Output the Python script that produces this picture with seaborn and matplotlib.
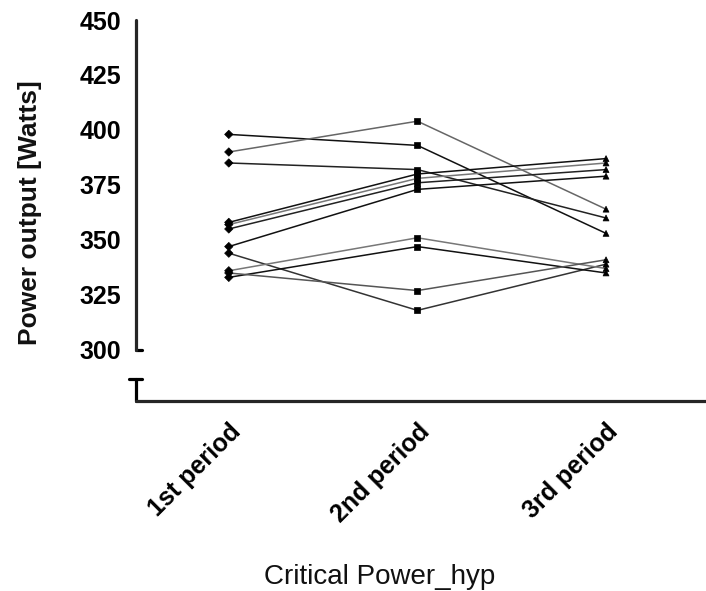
import numpy as np
import pandas as pd
import matplotlib
matplotlib.use("Agg")
import matplotlib.pyplot as plt
import matplotlib.transforms as mtransforms
import seaborn as sns

# Power output of each subject in the three periods
periods = ["1st period", "2nd period", "3rd period"]
subjects = ["S1", "S2", "S3", "S4", "S5", "S6", "S7", "S8", "S9", "S10", "S11"]
period1 = [398, 390, 385, 358, 357, 355, 347, 344, 336, 333, 335]
period2 = [393, 404, 382, 380, 378, 376, 373, 318, 351, 347, 327]
period3 = [353, 364, 360, 387, 385, 382, 379, 339, 337, 335, 341]
line_shades = ["#111111", "#666666", "#222222", "#111111", "#777777", "#222222",
               "#111111", "#333333", "#777777", "#111111", "#555555"]
y_ticks = [300, 325, 350, 375, 400, 425, 450]

rows = []
for i, s in enumerate(subjects):
    for j, vals in enumerate([period1, period2, period3]):
        rows.append({"subject": s, "pos": j, "period": periods[j], "power": vals[i]})
df = pd.DataFrame(rows)

sns.set_style("white")
plt.rcParams["font.family"] = ["Liberation Sans", "DejaVu Sans"]

W, H = 706, 591
fig = plt.figure(figsize=(W / 100, H / 100), dpi=100)
ax = fig.add_axes([136 / W, 1 - 401 / H, 1 - 136 / W, (401 - 20) / H])

sns.lineplot(data=df, x="pos", y="power", hue="subject",
             estimator=None, palette=dict(zip(subjects, line_shades)),
             linewidth=1.1, legend=False, ax=ax, sort=False)
sns.scatterplot(data=df, x="pos", y="power", style="period",
                markers={"1st period": "D", "2nd period": "s", "3rd period": "^"},
                color="black", s=18, edgecolor="black", linewidth=0.5,
                legend=False, ax=ax, zorder=3)

ybot = 276.8
ax.set_ylim(ybot, 450)
ax.set_xlim(-0.492, 2.53)
ax.set_yticks(y_ticks)
ax.set_xticks(range(len(periods)))
ax.set_xticklabels(periods, rotation=45, ha="right", rotation_mode="anchor",
                   fontsize=18, fontweight="bold", color="#111111")
for lab in ax.get_yticklabels():
    lab.set_fontsize(18)
    lab.set_fontweight("bold")
    lab.set_color("#111111")
ax.set_xlabel("")
ax.set_ylabel("")

sns.despine(ax=ax)
lw = 2.3
ax.spines["left"].set_bounds(300, 450)
ax.spines["left"].set_linewidth(lw)
ax.spines["bottom"].set_linewidth(lw)
ax.spines["left"].set_capstyle("round")
ax.spines["bottom"].set_capstyle("round")
ax.tick_params(axis="y", direction="out", length=9.5, width=lw, pad=1, colors="black")
ax.tick_params(axis="x", direction="out", length=7.5, width=lw, pad=6, colors="black")

# broken-axis stub below the gap
xf = mtransforms.blended_transform_factory(ax.transAxes, ax.transData)
ax.plot([0, 0], [286.8, ybot], transform=xf, color="black", lw=lw,
        clip_on=False, solid_capstyle="round")
ax.plot([-0.013, 0.01], [286.8, 286.8], transform=xf, color="black", lw=lw,
        clip_on=False, solid_capstyle="round")
ax.plot([0, 0.01], [300, 300], transform=xf, color="black", lw=lw,
        clip_on=False, solid_capstyle="round")

fig.text(380 / W, 1 - 577 / H, "Critical Power_hyp", fontsize=20,
         ha="center", va="center", color="#111111")
fig.text(30 / W, 1 - 213 / H, "Power output [Watts]", fontsize=19,
         fontweight="bold", rotation=90, ha="center", va="center", color="#111111")

fig.savefig("out.png", dpi=100, facecolor="white")
